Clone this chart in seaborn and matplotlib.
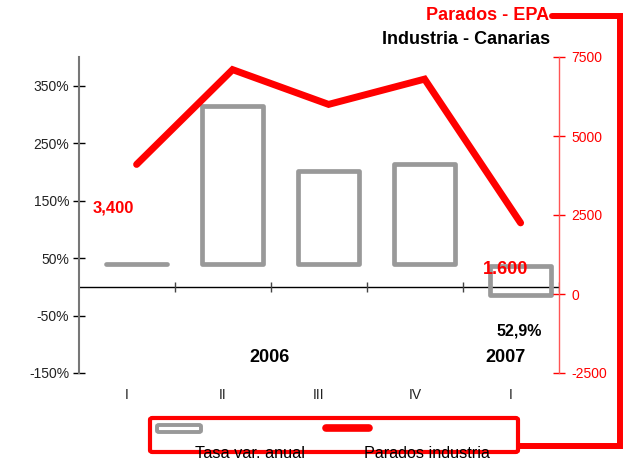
import matplotlib
matplotlib.use("Agg")
import matplotlib.pyplot as plt
import seaborn as sns
import numpy as np
import pandas as pd
from matplotlib.lines import Line2D
from matplotlib.patches import FancyBboxPatch

categories = ["I", "II", "III", "IV", "I"]
years = ["2006", "2007"]
bar_base = [39, 39, 39, 39, 36]
bar_top = [39, 315, 202, 214, -14]
parados = [4100, 7100, 6000, 6800, 2250]
left_ticks = [-150, -50, 50, 150, 250, 350]
right_ticks = [-2500, 0, 2500, 5000, 7500]

sns.set_theme(style="white")
plt.rcParams["font.family"] = ["Liberation Sans", "DejaVu Sans"]

W, H = 624, 459
fig = plt.figure(figsize=(W / 100, H / 100), dpi=100)

def px(x, y):
    return x / W, 1 - y / H

L, R, T, B = 79, 559, 57, 373
ax = fig.add_axes([L / W, 1 - B / H, (R - L) / W, (B - T) / H])
ax2 = ax.twinx()

GRAY = "#999999"
RED = "#ff0000"

xpos = np.arange(len(categories))
off = 0.1

# bars (hollow)
heights = [t - b for t, b in zip(bar_top, bar_base)]
bars = ax.bar(xpos + off, heights, bottom=bar_base, width=0.64, fill=False,
              edgecolor=GRAY, linewidth=3.4, zorder=3)
for b in bars:
    b.set_joinstyle("round")
    b.set_capstyle("round")

ax.axhline(0, color="black", lw=1.0, zorder=2)
ax.plot(np.arange(len(categories)) + 0.5, [0] * len(categories), ls="",
        marker="|", ms=7, mew=1.0, color="#444444", zorder=2)

ax.set_xlim(-0.5, len(categories) - 0.5)
ax.set_ylim(-150, 400)
ax.set_yticks(left_ticks)
ax.set_yticklabels([f"{v}%" for v in left_ticks], fontsize=10, color="#222222")
ax.set_xticks(xpos)
ax.set_xticklabels(categories, fontsize=10, color="#222222")
ax.tick_params(axis="x", length=0, pad=11)
ax.tick_params(axis="y", direction="inout", length=8, width=1.0, color="black", pad=3)
for s in ["top", "bottom", "right"]:
    ax.spines[s].set_visible(False)
ax.spines["left"].set_color("#777777")
ax.spines["left"].set_linewidth(1.5)

# line
df = pd.DataFrame({"x": xpos + off, "parados": parados})
sns.lineplot(data=df, x="x", y="parados", ax=ax2, color=RED, linewidth=5,
             sort=False, solid_capstyle="round", solid_joinstyle="miter", zorder=4)
ax2.set_ylim(-2500, 7500)
ax2.set_yticks(right_ticks)
ax2.set_yticklabels([str(v) for v in right_ticks], fontsize=10, color=RED)
ax2.tick_params(axis="y", direction="inout", length=8, width=1.0, color=RED, pad=5)
ax2.set_ylabel("")
ax2.set_xlabel("")
ax.set_xlabel("")
for s in ["top", "bottom", "left"]:
    ax2.spines[s].set_visible(False)
ax2.spines["right"].set_color("#ff5555")
ax2.spines["right"].set_linewidth(1.0)
ax2.set_xlim(-0.5, len(categories) - 0.5)

# texts
fig.text(*px(549, 16), "Parados - EPA", color=RED, fontsize=13, fontweight="bold",
         ha="right", va="center")
fig.text(*px(550, 40), "Industria - Canarias", color="black", fontsize=13,
         fontweight="bold", ha="right", va="center")
fig.text(*px(113, 208), "3,400", color=RED, fontsize=12, fontweight="bold",
         ha="center", va="center")
fig.text(*px(506, 269), "1.600", color=RED, fontsize=13, fontweight="bold",
         ha="center", va="center")
fig.text(*px(519, 331), "52,9%", color="black", fontsize=11.5, fontweight="bold",
         ha="center", va="center")
fig.text(*px(269, 357), years[0], color="black", fontsize=13, fontweight="bold",
         ha="center", va="center")
fig.text(*px(505, 357), years[1], color="black", fontsize=13, fontweight="bold",
         ha="center", va="center")

# red frame
fx = [552, 620, 620, 520]
fy = [16, 16, 446, 446]
fig.add_artist(Line2D([x / W for x in fx], [1 - y / H for y in fy], color=RED,
                      lw=4.3, solid_joinstyle="miter"))

# legend box
x0, y0 = px(150, 452)
x1, y1 = px(518, 418)
fig.add_artist(FancyBboxPatch((x0, y0), x1 - x0, y1 - y0,
                              boxstyle="round,pad=0,rounding_size=0.004",
                              fill=False, edgecolor=RED, lw=3.0,
                              transform=fig.transFigure))
hx0, hy0 = px(157, 432)
hx1, hy1 = px(201, 425)
fig.add_artist(FancyBboxPatch((hx0, hy0), hx1 - hx0, hy1 - hy0,
                              boxstyle="round,pad=0,rounding_size=0.003",
                              facecolor="white", edgecolor=GRAY, lw=2.8,
                              transform=fig.transFigure))
fig.add_artist(Line2D([326 / W, 369 / W], [1 - 428 / H] * 2, color=RED, lw=5.5,
                      solid_capstyle="round"))
fig.text(*px(195, 453), "Tasa var. anual", color="black", fontsize=11.7,
         ha="left", va="center")
fig.text(*px(364, 453), "Parados industria", color="black", fontsize=11.6,
         ha="left", va="center")

fig.savefig("out.png", dpi=100)
